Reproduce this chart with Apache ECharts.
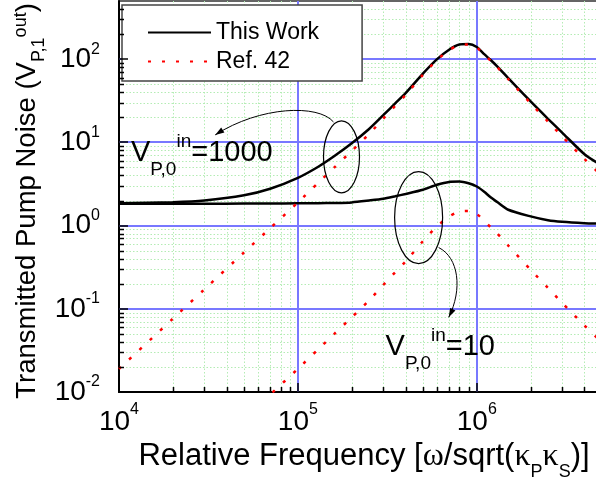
<!DOCTYPE html>
<html><head><meta charset="utf-8">
<script src="https://cdn.jsdelivr.net/npm/echarts@6/dist/echarts.min.js"></script>
<style>html,body{margin:0;padding:0;background:#fff}#c{width:596px;height:481px}</style>
</head><body><div id="c"></div>
<script>
// ---- data ----
const freq = [1e4, 2e4, 3e4, 5e4, 7e4, 1e5, 1.3e5, 1.6e5, 2e5, 2.5e5, 3e5, 3.5e5, 4e5, 5e5, 6e5, 7e5, 8e5, 9e5, 1e6, 1.1e6, 1.2e6, 1.3e6, 1.5e6, 2e6, 2.5e6, 3e6, 4e6, 4.7e6];
const thisWork1000 = [1.85, 1.91, 2.0, 2.31, 2.77, 3.75, 5.1, 6.85, 9.75, 14.5, 21.2, 29.4, 39, 67, 100, 130, 150, 152, 140, 115, 97, 82, 59, 31, 19.2, 13.1, 7.2, 5.7];
const ref1000 = [0.019, 0.076, 0.171, 0.476, 0.93, 1.9, 3.27, 5.0, 7.9, 12.6, 19.3, 27.5, 37, 65, 98, 128, 148, 150, 138, 113.5, 95, 80.4, 57.5, 29.5, 17.8, 11.8, 6.3, 4.5];
const thisWork10 = [1.83, 1.83, 1.83, 1.84, 1.84, 1.85, 1.86, 1.87, 1.9, 2.0, 2.1, 2.25, 2.4, 2.7, 3.1, 3.35, 3.38, 3.22, 2.95, 2.55, 2.17, 1.92, 1.55, 1.29, 1.16, 1.11, 1.07, 1.06];
const ref10 = [0.00019, 0.00076, 0.00171, 0.00476, 0.0093, 0.019, 0.0327, 0.05, 0.079, 0.126, 0.193, 0.275, 0.37, 0.65, 0.98, 1.28, 1.48, 1.5, 1.38, 1.135, 0.95, 0.804, 0.575, 0.295, 0.178, 0.118, 0.063, 0.045];
const xRange = [1e4, 4.7e6];
const yRange = [0.01, 500];
const xDecades = [1e4, 1e5, 1e6];
const yDecades = [0.01, 0.1, 1, 10, 100];
const legendNames = ['This Work', 'Ref. 42'];
const xTitle = 'Relative Frequency [{g|ω}/sqrt({g|κ}{sb|P}{g|κ}{sb|S})]';
const yTitle = 'Transmitted Pump Noise (V{sb|P,1}{sp|out})';
const ann1Text = 'V{sb|P,0}{sp|in}=1000';
const ann2Text = 'V{sb|P,0}{sp|in}=10';
// annotation anchors in data coordinates
const ann1At = [1.167e4, 7.48];
const ann2At = [3.09e5, 0.0351];
const ell1At = [1.753e5, 6.7];
const ell2At = [4.73e5, 1.247];
const arrow1Path = [[1.581e5, 17.6], [1.302e5, 28.9], [6.17e4, 27.4], [3.45e4, 12.3]];
const arrow2Path = [[6.12e5, 0.545], [7.93e5, 0.414], [8.35e5, 0.171], [6.97e5, 0.0791]];

(function () {
const FONT = '"Liberation Sans", Arial, sans-serif';
const SERIF = '"Liberation Serif", "DejaVu Serif", serif';
const zip = (xs, ys) => xs.map((x, i) => [x, ys[i]]);
const pow10Label = v => '{b|10}{s|' + Math.round(Math.log10(v)) + '}';

const chart = echarts.init(document.getElementById('c'));
const dotted = {color: '#ff0000', width: 2.5, type: [3, 11], cap: 'butt'};
const solid = {color: '#000', width: 2.5};

chart.setOption({
  animation: false,
  backgroundColor: '#fff',
  textStyle: {fontFamily: FONT},
  grid: {left: 119, right: -1, top: 1, bottom: 89, containLabel: false, outerBoundsMode: 'none', show: true, borderColor: '#333', borderWidth: 1.5, backgroundColor: 'transparent'},
  legend: {
    orient: 'vertical', left: 122, top: 5, data: legendNames,
    itemWidth: 63, itemHeight: 14, itemGap: 0, padding: [13, 43, 5, 25],
    backgroundColor: '#fff', borderColor: '#444', borderWidth: 1.5,
    itemStyle: {opacity: 0},
    textStyle: {fontSize: 23, color: '#000', fontFamily: FONT, lineHeight: 29}
  },
  xAxis: {
    type: 'log', logBase: 10, min: xRange[0], max: xRange[1],
    axisLine: {show: true, lineStyle: {color: '#000', width: 2}},
    axisTick: {show: false},
    splitLine: {show: false},
    axisLabel: {
      formatter: pow10Label, showMaxLabel: false, margin: 10, color: '#000',
      rich: {b: {fontSize: 28, fontFamily: FONT, color: '#000'}, s: {fontSize: 16, fontFamily: FONT, color: '#000', padding: [0, 0, 24, 0]}}
    },
    name: xTitle, nameLocation: 'middle', nameGap: 25,
    nameTextStyle: {fontSize: 31, color: '#000', fontFamily: FONT, padding: [0, 0, 0, 12],
      rich: {g: {fontSize: 32, fontFamily: SERIF, color: '#000'}, sb: {fontSize: 18, fontFamily: FONT, color: '#000', padding: [30, 0, 0, 0]}}}
  },
  yAxis: {
    type: 'log', logBase: 10, min: yRange[0], max: yRange[1],
    axisLine: {show: true, lineStyle: {color: '#000', width: 2}},
    axisTick: {show: false},
    splitLine: {show: false},
    axisLabel: {
      formatter: pow10Label, showMaxLabel: false, margin: 19, color: '#000',
      rich: {b: {fontSize: 28, fontFamily: FONT, color: '#000'}, s: {fontSize: 16, fontFamily: FONT, color: '#000', padding: [0, 0, 20, 0]}}
    }
  },
  series: [
    {name: 'This Work', type: 'line', data: zip(freq, thisWork1000), symbol: 'none', smooth: 0.25, lineStyle: solid, itemStyle: {color: '#000'}, z: 3},
    {name: 'This Work', type: 'line', data: zip(freq, thisWork10), symbol: 'none', smooth: 0.25, lineStyle: solid, itemStyle: {color: '#000'}, z: 3},
    {name: 'Ref. 42', type: 'line', data: zip(freq, ref1000), symbol: 'none', smooth: 0.25, lineStyle: dotted, itemStyle: {color: '#ff0000'}, z: 4},
    {name: 'Ref. 42', type: 'line', data: zip(freq, ref10), symbol: 'none', smooth: 0.25, lineStyle: dotted, itemStyle: {color: '#ff0000'}, z: 4}
  ]
});

// ---- decorations positioned through the axes ----
const P = (x, y) => chart.convertToPixel({seriesIndex: 0}, [x, y]);
const els = [];
const c0 = P(xRange[0], yRange[0]), c1 = P(xRange[1], yRange[1]);
const gL = c0[0], gB = c0[1], gR = c1[0], gT = c1[1];
const snap = v => Math.round(v) + 0.5;
for (let d = 1e4; d <= xRange[1]; d *= 10) {
  for (let k = 2; k <= 9; k++) {
    const v = k * d; if (v >= xRange[1]) break;
    const px = snap(P(v, 1)[0]);
    els.push({type: 'line', silent: true, z: 1, shape: {x1: px, y1: gT, x2: px, y2: gB}, style: {stroke: '#b4ecb4', lineWidth: 1, lineDash: [1.5, 2]}});
    els.push({type: 'line', silent: true, z: 5, shape: {x1: px, y1: gB, x2: px, y2: gB - 5}, style: {stroke: '#000', lineWidth: 1.5}});
  }
}
for (let d = 0.01; d <= yRange[1]; d *= 10) {
  for (let k = 2; k <= 9; k++) {
    const v = k * d; if (v >= yRange[1]) break;
    const py = snap(P(1e5, v)[1]);
    els.push({type: 'line', silent: true, z: 1, shape: {x1: gL, y1: py, x2: gR, y2: py}, style: {stroke: '#b4ecb4', lineWidth: 1, lineDash: [1.5, 2]}});
    els.push({type: 'line', silent: true, z: 5, shape: {x1: gL, y1: py, x2: gL + 5, y2: py}, style: {stroke: '#000', lineWidth: 1.5}});
  }
}
xDecades.slice(1).forEach(v => {
  const px = Math.round(P(v, 1)[0]);
  els.push({type: 'line', silent: true, z: 2, shape: {x1: px, y1: gT, x2: px, y2: gB}, style: {stroke: '#7878ff', lineWidth: 2}});
  els.push({type: 'line', silent: true, z: 5, shape: {x1: px, y1: gB, x2: px, y2: gB - 9}, style: {stroke: '#000', lineWidth: 1.5}});
});
yDecades.slice(1).forEach(v => {
  const py = Math.round(P(1e5, v)[1]);
  els.push({type: 'line', silent: true, z: 2, shape: {x1: gL, y1: py, x2: gR, y2: py}, style: {stroke: '#7878ff', lineWidth: 2}});
  els.push({type: 'line', silent: true, z: 5, shape: {x1: gL, y1: py, x2: gL + 9, y2: py}, style: {stroke: '#000', lineWidth: 1.5}});
});
// y-axis title (rotated real text)
els.push({type: 'text', silent: true, z: 7, x: 27, y: 201, rotation: Math.PI / 2,
  style: {text: yTitle, fontSize: 27.5, fontFamily: FONT, fill: '#000', align: 'center', verticalAlign: 'middle',
    rich: {sb: {fontSize: 18, fontFamily: FONT, fill: '#000', padding: [24, 0, 0, 0]}, sp: {fontSize: 18, fontFamily: FONT, fill: '#000', padding: [0, 0, 12, 0]}}}});
[[ell1At, 18, 36], [ell2At, 24, 46]].forEach(([c, rx, ry]) => {
  const p = P(c[0], c[1]);
  els.push({type: 'ellipse', silent: true, z: 6, shape: {cx: p[0], cy: p[1], rx: rx, ry: ry}, style: {fill: null, stroke: '#000', lineWidth: 1.2}});
});
[arrow1Path, arrow2Path].forEach(path => {
  const q = path.map(p => P(p[0], p[1]));
  els.push({type: 'bezierCurve', silent: true, z: 6, shape: {x1: q[0][0], y1: q[0][1], cpx1: q[1][0], cpy1: q[1][1], cpx2: q[2][0], cpy2: q[2][1], x2: q[3][0], y2: q[3][1]}, style: {fill: null, stroke: '#000', lineWidth: 1}});
  const dx = q[3][0] - q[2][0], dy = q[3][1] - q[2][1], L = Math.hypot(dx, dy);
  const ux = dx / L, uy = dy / L, len = 9, w = 3;
  const bx = q[3][0] - ux * len, by = q[3][1] - uy * len;
  els.push({type: 'polygon', silent: true, z: 6, shape: {points: [[q[3][0], q[3][1]], [bx - uy * w, by + ux * w], [bx + uy * w, by - ux * w]]}, style: {fill: '#000'}});
});
const annRich = {sb: {fontSize: 19, fontFamily: FONT, fill: '#000', padding: [34, 0, 0, 0]}, sp: {fontSize: 19, fontFamily: FONT, fill: '#000', padding: [0, 0, 22, 0]}};
[[ann1Text, ann1At], [ann2Text, ann2At]].forEach(([t, at]) => {
  const p = P(at[0], at[1]);
  els.push({type: 'text', silent: true, z: 7, style: {text: t, x: p[0], y: p[1], fontSize: 29, fontFamily: FONT, fill: '#000', verticalAlign: 'middle', align: 'left', rich: annRich}});
});
chart.setOption({graphic: {elements: els}});
})();
</script>
</body></html>
